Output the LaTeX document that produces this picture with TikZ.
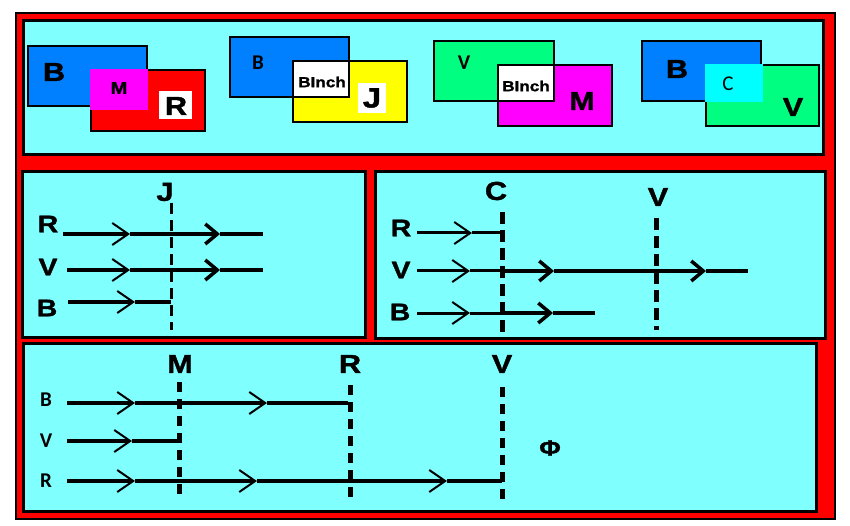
\documentclass[tikz,border=0pt]{standalone}
\usepackage{fontspec}
\setmainfont{Liberation Sans}
\newfontfamily\heavy[FakeBold=1.5, FakeStretch=1.18]{Liberation Sans Bold}
\newfontfamily\calib{Carlito}
\usetikzlibrary{arrows.meta}
\definecolor{panelcyan}{HTML}{80FFFF}
\definecolor{setred}{HTML}{FF0000}
\definecolor{setblue}{HTML}{0080FF}
\definecolor{setgreen}{HTML}{00FF80}
\definecolor{setcyan}{HTML}{00FFFF}
\definecolor{setmagenta}{HTML}{FF00FF}
\definecolor{setyellow}{HTML}{FFFF00}
\begin{document}
\begin{tikzpicture}[
                x = 1pt, y = -1pt,
                panel/.style = {draw, line width = 3pt, fill = panelcyan},
                setrect/.style = {draw, line width = 1.2pt},
                bigl/.style = {inner sep = 0mm, font = \heavy\fontsize{26}{26}\selectfont},
                midl/.style = {inner sep = 0mm, font = \heavy\fontsize{17}{17}\selectfont},
                inch/.style = {inner sep = 0mm, font = \heavy\fontsize{14.5}{15}\selectfont},
                cal/.style = {inner sep = 0mm, font = \calib\fontsize{21}{21}\selectfont\bfseries},
                calreg/.style = {inner sep = 0mm, font = \calib\fontsize{21}{21}\selectfont},
                rayl/.style = {inner sep = 0mm, font = \heavy\fontsize{24}{24}\selectfont},
                ray/.style = {draw, line width = 3.5pt},
                fatray/.style = {draw, line width = 4.5pt},
                slimray/.style = {draw, line width = 3pt},
                thinarr/.style = {-{Straight Barb[length = 16pt, width = 22pt, line width = 2pt]}},
                thickarr/.style = {-{Straight Barb[length = 12pt, width = 20pt, line width = 3.5pt]}},
                divthin/.style = {draw, line width = 3pt, dash pattern = on 11pt off 6pt},
                divthick/.style = {draw, line width = 5pt, dash pattern = on 12pt off 6pt},
            ]
            \useasboundingbox (0,0) rectangle (850,526);

            % frame and panels
            \draw[line width = 2pt, fill = setred] (16,13) rectangle (834.5,518.5);
            \draw[panel] (23.5,20.5) rectangle (823.5,154.5);
            \draw[panel] (22.5,171.5) rectangle (365,337.5);
            \draw[panel] (375,171.5) rectangle (825,338.5);
            \draw[panel] (23,343) rectangle (816,511.5);

            % sets B and R
            \draw[setrect, fill = setblue] (28,46) rectangle (147,106);
            \draw[setrect, fill = setred] (91,70) rectangle (205,131);
            \fill[setmagenta] (90.4,69.4) rectangle (147.8,110);
            \fill[white] (159,91) rectangle (192,119);
            \node (brB) [bigl] at (54,72) {B};
            \node (brM) [midl] at (119,88) {M};
            \node (brR) [bigl] at (176,106) {R};

            % sets B and J
            \fill[setblue] (230,37) rectangle (349,97);
            \fill[setyellow] (293,61) rectangle (407,122);
            \fill[white] (293,61) rectangle (349,97);
            \draw[setrect] (230,37) rectangle (349,97) (293,61) rectangle (407,122);
            \fill[white] (358,83) rectangle (386,113);
            \node (bjB) [cal] at (258,63) {B};
            \node (bjI) [inch] at (322,82) {BInch};
            \node (bjJ) [bigl, font = \heavy\fontsize{28}{28}\selectfont] at (372,98) {J};

            % sets V and M
            \fill[setgreen] (434,41) rectangle (554,101);
            \fill[setmagenta] (498,65) rectangle (612,126);
            \fill[white] (498,65) rectangle (554,101);
            \draw[setrect] (434,41) rectangle (554,101) (498,65) rectangle (612,126);
            \node (vmV) [cal] at (464,63) {V};
            \node (vmI) [inch] at (526,86) {BInch};
            \node (vmM) [bigl] at (582,101) {M};

            % sets B and V
            \draw[setrect, fill = setblue] (642,41) rectangle (761,101);
            \draw[setrect, fill = setgreen] (706,65) rectangle (819,126);
            \fill[setcyan] (705.4,64.4) rectangle (763,102);
            \node (bvB) [bigl] at (677,69) {B};
            \node (bvC) [calreg] at (728,84) {C};
            \node (bvV) [bigl] at (793,107) {V};

            % panel J
            \node (jJ) [bigl] at (165,192) {J};
            \coordinate (jTop) at (171,203);
            \coordinate (jBot) at (171,330);
            \path[divthin] (jTop) -- (jBot);

            \node (jR) [rayl] at (48,224) {R};
            \node (jV) [rayl] at (48,267) {V};
            \node (jB) [rayl] at (47,308) {B};
            \coordinate (jR0) at (63,234);  \coordinate (jR1) at (130,234);
            \coordinate (jR2) at (171,234); \coordinate (jR3) at (220,234);
            \coordinate (jR4) at (263,234);
            \coordinate (jV0) at (67,270);  \coordinate (jV1) at (130,270);
            \coordinate (jV2) at (171,270); \coordinate (jV3) at (220,270);
            \coordinate (jV4) at (263,270);
            \coordinate (jB0) at (68,302);  \coordinate (jB1) at (135,302);
            \coordinate (jB2) at (171,302);

            \path[fatray, thinarr] (jR0) -- (jR1);
            \path[fatray] (jR1) -- (jR2);
            \path[fatray, thickarr] (jR2) -- (jR3);
            \path[fatray] (jR3) -- (jR4);

            \path[fatray, thinarr] (jV0) -- (jV1);
            \path[fatray] (jV1) -- (jV2);
            \path[fatray, thickarr] (jV2) -- (jV3);
            \path[fatray] (jV3) -- (jV4);

            \path[fatray, thinarr] (jB0) -- (jB1);
            \path[fatray] (jB1) -- (jB2);

            % panel C and V
            \node (cC) [bigl] at (496,191) {C};
            \node (cV) [bigl] at (658,197) {V};
            \coordinate (cCtop) at (502,212);
            \coordinate (cCbot) at (502,332);
            \coordinate (cVtop) at (656,218);
            \coordinate (cVbot) at (656,330);
            \path[divthick] (cCtop) -- (cCbot);
            \path[divthick] (cVtop) -- (cVbot);

            \node (cR) [rayl] at (401,228) {R};
            \node (cVl) [rayl] at (401,270) {V};
            \node (cB) [rayl] at (400,312) {B};
            \coordinate (cR0) at (417,233); \coordinate (cR1) at (472,233);
            \coordinate (cR2) at (502,233);
            \coordinate (cV0) at (417,271); \coordinate (cV1) at (470,271);
            \coordinate (cV2) at (502,271); \coordinate (cV3) at (554,271);
            \coordinate (cV4) at (656,271); \coordinate (cV5) at (706,271);
            \coordinate (cV6) at (748,271);
            \coordinate (cB0) at (417,313); \coordinate (cB1) at (470,313);
            \coordinate (cB2) at (502,313); \coordinate (cB3) at (553,313);
            \coordinate (cB4) at (595,313);

            \path[slimray, thinarr] (cR0) -- (cR1);
            \path[slimray] (cR1) -- (cR2);

            \path[slimray, thinarr] (cV0) -- (cV1);
            \path[slimray] (cV1) -- (cV2);
            \path[fatray, thickarr] (cV2) -- (cV3);
            \path[fatray] (cV3) -- (cV4);
            \path[fatray, thickarr] (cV4) -- (cV5);
            \path[fatray] (cV5) -- (cV6);

            \path[slimray, thinarr] (cB0) -- (cB1);
            \path[slimray] (cB1) -- (cB2);
            \path[fatray, thickarr] (cB2) -- (cB3);
            \path[fatray] (cB3) -- (cB4);

            % panel M, R and V
            \node (mM) [bigl] at (180,364) {M};
            \node (mR) [bigl] at (350,364) {R};
            \node (mV) [bigl] at (502,364) {V};
            \coordinate (mMtop) at (179,382);
            \coordinate (mMbot) at (179,497);
            \coordinate (mRtop) at (350,385);
            \coordinate (mRbot) at (350,500);
            \coordinate (mVtop) at (502,387);
            \coordinate (mVbot) at (502,502);
            \path[divthick, dash pattern = on 10pt off 7pt] (mMtop) -- (mMbot);
            \path[divthick, dash pattern = on 10pt off 7pt] (mRtop) -- (mRbot);
            \path[divthick, dash pattern = on 10pt off 7pt] (mVtop) -- (mVbot);

            \node (mB) [cal] at (46,400) {B};
            \node (mVl) [cal] at (46,441) {V};
            \node (mRl) [cal] at (46,481) {R};
            \node (phi) [midl, font = \heavy\fontsize{22}{22}\selectfont] at (550,448) {Φ};
            \coordinate (mB0) at (67,403);  \coordinate (mB1) at (135,403);
            \coordinate (mB2) at (179,403); \coordinate (mB3) at (267,403);
            \coordinate (mB4) at (348,403);
            \coordinate (mV0) at (67,441);  \coordinate (mV1) at (132,441);
            \coordinate (mV2) at (179,441);
            \coordinate (mR0) at (67,481);  \coordinate (mR1) at (135,481);
            \coordinate (mR2) at (179,481); \coordinate (mR3) at (257,481);
            \coordinate (mR4) at (350,481); \coordinate (mR5) at (447,481);
            \coordinate (mR6) at (502,481);

            \path[ray, thinarr] (mB0) -- (mB1);
            \path[ray] (mB1) -- (mB2);
            \path[ray, thinarr] (mB2) -- (mB3);
            \path[ray] (mB3) -- (mB4);

            \path[ray, thinarr] (mV0) -- (mV1);
            \path[ray] (mV1) -- (mV2);

            \path[ray, thinarr] (mR0) -- (mR1);
            \path[ray] (mR1) -- (mR2);
            \path[ray, thinarr] (mR2) -- (mR3);
            \path[ray] (mR3) -- (mR4);
            \path[ray, thinarr] (mR4) -- (mR5);
            \path[ray] (mR5) -- (mR6);
        \end{tikzpicture}
\end{document}
